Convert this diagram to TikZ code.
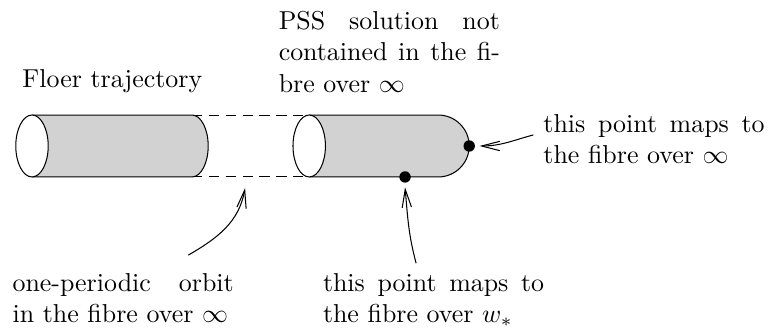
\documentclass[tikz,border=0pt]{standalone}
\usetikzlibrary{arrows.meta}

\begin{document}
\begin{tikzpicture}[
    >={Straight Barb[length=7pt,width=3.6pt]},
    note/.style={text width=3cm, align=justify, inner sep=0pt, anchor=north west},
    tube/.style={fill=gray!35, draw=black},
    gap/.style={dash pattern=on 4pt off 2.5pt},
]
  \useasboundingbox (-0.434,-2.51) rectangle (10.01,1.98);

  % gestrichelte Verbindung zwischen den Zylindern
  \draw[gap] (2.17,0.42) -- (3.76,0.42);
  \draw[gap] (2.17,-0.42) -- (3.76,-0.42);

  % Floer-Zylinder
  \filldraw[tube] (0,0.42) -- (2.17,0.42) arc (90:-90:0.22 and 0.42) -- (0,-0.42);
  \filldraw[fill=white] (0,0) ellipse (0.22 and 0.42);

  % PSS-Halbzylinder mit Kappe
  \filldraw[tube] (3.76,0.42) -- (5.51,0.42) arc (90:-90:0.42) -- (3.76,-0.42);
  \filldraw[fill=white] (3.76,0) ellipse (0.22 and 0.42);

  % markierte Punkte
  \coordinate (capR) at (5.93,0);
  \coordinate (rimB) at (5.06,-0.42);
  \coordinate (gapB) at (2.89,-0.57);
  \fill (capR) circle (2.2pt);
  \fill (rimB) circle (2.2pt);

  % Beschriftungen
  \node[anchor=base west, inner sep=0pt] (floer) at (-0.136,0.787) {Floer trajectory};
  \node[note] (pss) at (3.34,1.83) {PSS solution not contained in the fibre over $\infty$};
  \node[note] (infpt) at (6.93,0.43) {this point maps to the fibre over $\infty$};
  \node[note] (orbit) at (-0.27,-1.72) {one-periodic orbit in the fibre over $\infty$};
  \node[note] (wpt) at (3.94,-1.72) {this point maps to the fibre over $w_*$};

  % Pfeile
  \coordinate (orbitS) at (2.12,-1.48);
  \coordinate (wptS) at (5.21,-1.59);
  \coordinate (infS) at (6.80,0.15);
  \draw[->] (orbitS) to[out=30, in=-100] (gapB);
  \draw[->] (wptS) to[out=105, in=-85] ([yshift=-4pt]rimB);
  \draw[->] (infS) to[out=195, in=0] ([xshift=4pt]capR);

\end{tikzpicture}
\end{document}
